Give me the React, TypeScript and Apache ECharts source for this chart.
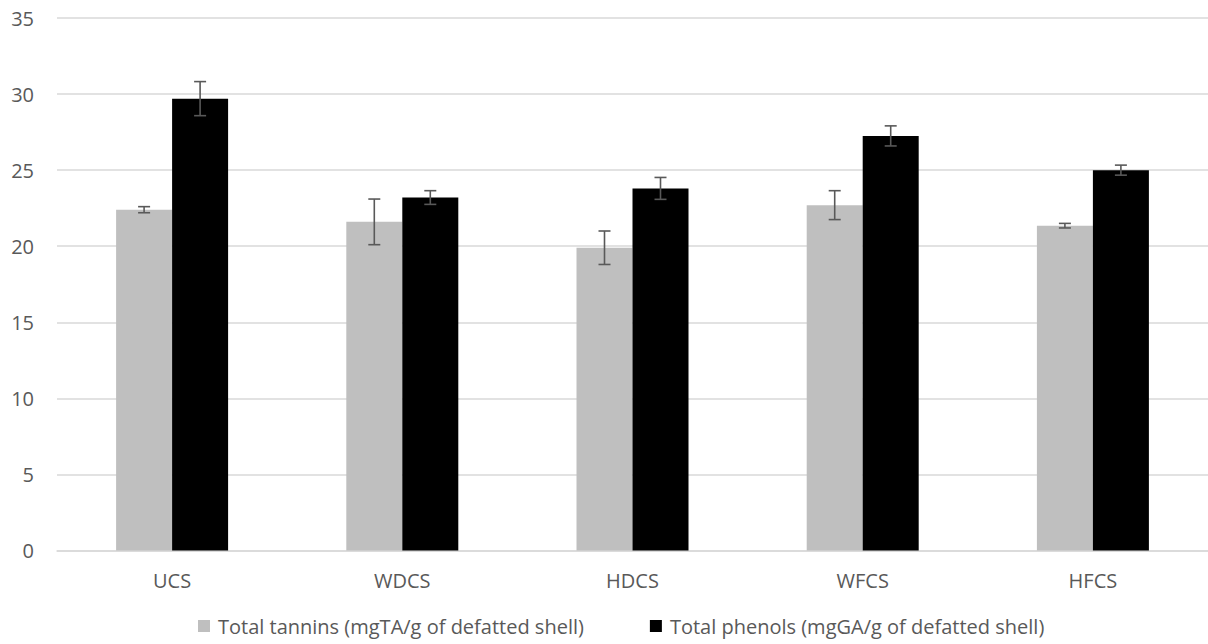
import React, { useEffect, useRef } from "react";
import * as echarts from "echarts";

const categories = ["UCS", "WDCS", "HDCS", "WFCS", "HFCS"];
const tanninsName = "Total tannins (mgTA/g of defatted shell)";
const phenolsName = "Total phenols (mgGA/g of defatted shell)";
const tannins = [22.4, 21.6, 19.9, 22.7, 21.35];
const tanninsErr = [0.2, 1.5, 1.1, 0.95, 0.15];
const phenols = [29.7, 23.2, 23.8, 27.25, 25.0];
const phenolsErr = [1.12, 0.45, 0.72, 0.66, 0.33];

const BAR_W = 56;

function errorSeries(name: string, vals: number[], errs: number[], offset: number) {
  return {
    type: "custom",
    name,
    z: 10,
    silent: true,
    encode: { x: 0, y: [1, 2] },
    data: vals.map((v, i) => [i, v - errs[i], v + errs[i]]),
    renderItem: (params: any, api: any) => {
      const lo = api.coord([api.value(0), api.value(1)]);
      const hi = api.coord([api.value(0), api.value(2)]);
      const x = lo[0] + offset;
      const cap = 6;
      const style = { stroke: "#595959", lineWidth: 1.6 };
      return {
        type: "group",
        children: [
          { type: "line", shape: { x1: x, y1: lo[1], x2: x, y2: hi[1] }, style },
          { type: "line", shape: { x1: x - cap, y1: lo[1], x2: x + cap, y2: lo[1] }, style },
          { type: "line", shape: { x1: x - cap, y1: hi[1], x2: x + cap, y2: hi[1] }, style },
        ],
      };
    },
  };
}

export default function App() {
  const ref = useRef<HTMLDivElement>(null);
  useEffect(() => {
    if (!ref.current) return;
    const chart = echarts.init(ref.current, null, { renderer: "svg" });
    const font = "'Open Sans', 'Segoe UI', sans-serif";
    chart.setOption({
      animation: false,
      backgroundColor: "#ffffff",
      textStyle: { fontFamily: font },
      grid: { left: 57, right: 0, top: 18, bottom: 93.5, containLabel: false },
      legend: {
        data: [tanninsName, phenolsName],
        left: 193,
        top: 611,
        icon: "rect",
        itemWidth: 12,
        itemHeight: 12,
        itemGap: 66,
        textStyle: { fontFamily: font, fontSize: 20, color: "#595959", padding: [0, 0, 0, 3] },
      },
      xAxis: {
        type: "category",
        data: categories,
        axisLine: { show: true, lineStyle: { color: "#d9d9d9", width: 1.5 } },
        axisTick: { show: false },
        axisLabel: { color: "#595959", fontSize: 20, margin: 20, fontFamily: font },
      },
      yAxis: {
        type: "value",
        min: 0,
        max: 35,
        interval: 5,
        axisLine: { show: false },
        axisTick: { show: false },
        axisLabel: { color: "#595959", fontSize: 20, margin: 23, fontFamily: font },
        splitLine: { lineStyle: { color: "#d9d9d9", width: 1.5 } },
      },
      series: [
        {
          type: "bar",
          name: tanninsName,
          data: tannins,
          barWidth: BAR_W,
          barGap: "0%",
          itemStyle: { color: "#bfbfbf" },
        },
        {
          type: "bar",
          name: phenolsName,
          data: phenols,
          barWidth: BAR_W,
          barGap: "0%",
          itemStyle: { color: "#000000" },
        },
        errorSeries("tanninsErr", tannins, tanninsErr, -BAR_W / 2),
        errorSeries("phenolsErr", phenols, phenolsErr, BAR_W / 2),
      ],
    });
    return () => chart.dispose();
  }, []);
  return (
    <div
      ref={ref}
      style={{ position: "fixed", left: 0, top: 0, width: 1208, height: 644, background: "#fff" }}
    />
  );
}
